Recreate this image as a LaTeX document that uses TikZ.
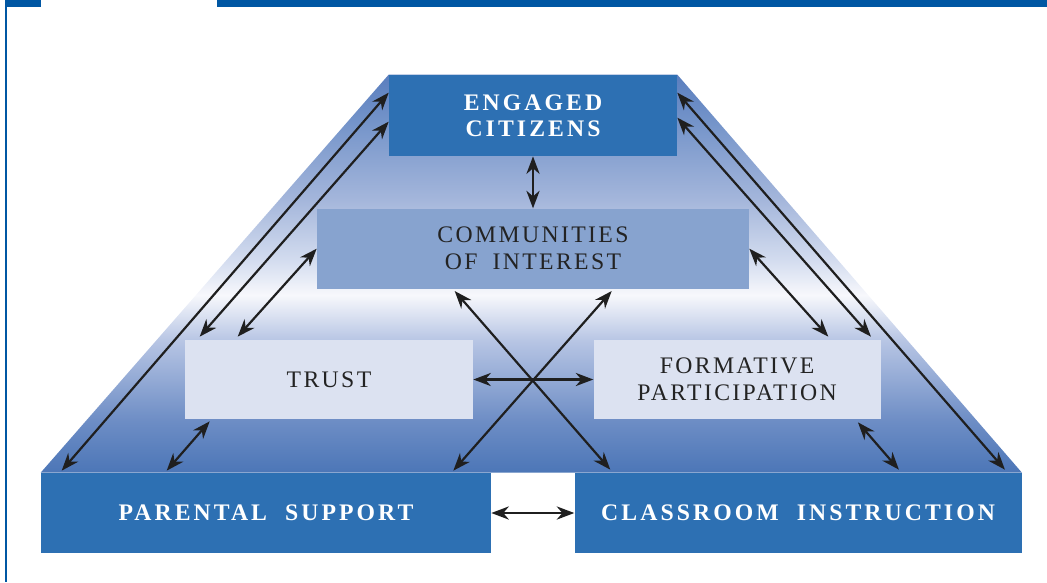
\documentclass[tikz,border=0pt]{standalone}
\usepackage{fontspec}
\setmainfont{Liberation Serif}
\newfontfamily\spacedfont{Liberation Serif}[LetterSpace=10, WordSpace=1.8]
\newfontfamily\spacedbold{Liberation Serif}[LetterSpace=13, WordSpace=2]
\usetikzlibrary{positioning, arrows.meta, calc, backgrounds}

\definecolor{barblue}{HTML}{0057A3}
\definecolor{boxblue}{HTML}{2D70B3}
\definecolor{midblue}{HTML}{87A3CF}
\definecolor{paleblue}{HTML}{DCE2F1}
\definecolor{inktext}{HTML}{232323}
% gradient stops of the pyramid (bottom to top)
\definecolor{pyrA}{HTML}{4C76B7}
\definecolor{pyrB}{HTML}{6D8DC5}
\definecolor{pyrC}{HTML}{B7C5E4}
\definecolor{pyrD}{HTML}{F7F8FC}
\definecolor{pyrE}{HTML}{D3DCEF}
\definecolor{pyrF}{HTML}{A4B6DB}
\definecolor{pyrG}{HTML}{7393C9}
\definecolor{pyrH}{HTML}{5A7EBE}
\pgfdeclareverticalshading{pyramidshade}{100bp}{
  color(0bp)=(pyrA); color(25bp)=(pyrA); color(31.5bp)=(pyrB);
  color(41.6bp)=(pyrC); color(47.3bp)=(pyrD); color(51.7bp)=(pyrE);
  color(59.3bp)=(pyrF); color(69.3bp)=(pyrG); color(75bp)=(pyrH);
  color(100bp)=(pyrH)}

\begin{document}
\begin{tikzpicture}[
    x=0.02cm, y=-0.02cm, % one unit = one pixel of the layout
    % --- BOX STYLES ---
    module/.style={rectangle, inner sep=0pt, align=center, minimum height=1.6cm},
    topbox/.style={module, fill=boxblue, text=white, font=\spacedbold\bfseries\fontsize{13.5}{14.7}\selectfont},
    midbox/.style={module, fill=midblue, text=inktext, font=\spacedfont\fontsize{13.5}{15.3}\selectfont},
    lightbox/.style={module, fill=paleblue, text=inktext, font=\spacedfont\fontsize{13.5}{15.3}\selectfont},
    link/.style={<->, line width=1.25pt, draw=black!88},
    >={Stealth[length=10pt, width=7.5pt, inset=3.2pt]}
]
\useasboundingbox (0,0) rectangle (1047,582);

% --- PAGE FRAME ---
\fill[barblue] (5,0) rectangle (41,6.5);
\fill[barblue] (217,0) rectangle (1047,6.5);
\fill[barblue] (5,0) rectangle (7,582);

% --- 1. OUTCOME ---
\node (engaged) [topbox, minimum width=5.76cm, minimum height=1.62cm] at (533,115.5) {ENGAGED\\CITIZENS};

% --- 2. MIDDLE LAYERS ---
\node (communities) [midbox, minimum width=8.64cm, below=1.04cm of engaged] {COMMUNITIES\\OF INTEREST};
\node (trust) [lightbox, minimum width=5.76cm, minimum height=1.58cm] at (329,379.5) {TRUST};
\node (formative) [lightbox, minimum width=5.74cm, minimum height=1.58cm, right=2.4cm of trust] {FORMATIVE\\PARTICIPATION};

% --- 3. FOUNDATION ---
\node (parental) [topbox, minimum width=9cm] at (266,513) {PARENTAL SUPPORT};
\node (classroom) [topbox, minimum width=8.94cm, right=1.66cm of parental] {CLASSROOM INSTRUCTION};

% --- PYRAMID BACKDROP ---
\begin{scope}[on background layer]
  \shade[shading=pyramidshade] (engaged.north west) -- (engaged.north east)
    -- (classroom.north east) -- (parental.north west) -- cycle;
\end{scope}

% --- FLOWS ---
% 1. Vertical link at the top
\draw [link] (engaged) -- (communities);

% 2. Outer sides of the pyramid
\draw [link] ($(engaged.north west)+(0,18)$) -- ($(parental.north west)+(21,-2)$);
\draw [link] ($(engaged.north west)+(0,47)$) -- ($(trust.north west)+(15,-3)$);
\draw [link] (communities.west) -- ($(trust.north west)+(53,-3)$);
\draw [link] ($(engaged.north east)+(0,18)$) -- ($(classroom.north east)+(-17,-3)$);
\draw [link] ($(engaged.north east)+(0,43)$) -- ($(formative.north east)+(-10,-3)$);
\draw [link] (communities.east) -- ($(formative.north west)+(235,-3)$);

% 3. Middle boxes to the foundation
\draw [link] ($(trust.south west)+(25,2)$) -- ($(parental.north west)+(126,-2)$);
\draw [link] ($(formative.south east)+(-23,3)$) -- ($(classroom.north east)+(-123,-3)$);

% 4. The central cross
\draw [link] ($(communities.south west)+(138,2)$) -- ($(classroom.north west)+(36,-3)$);
\draw [link] ($(communities.south west)+(295,2)$) -- ($(parental.north east)+(-38,-2)$);
\draw [link] (trust) -- (formative);

% 5. Foundation link
\draw [link] (parental) -- (classroom);

\end{tikzpicture}
\end{document}
